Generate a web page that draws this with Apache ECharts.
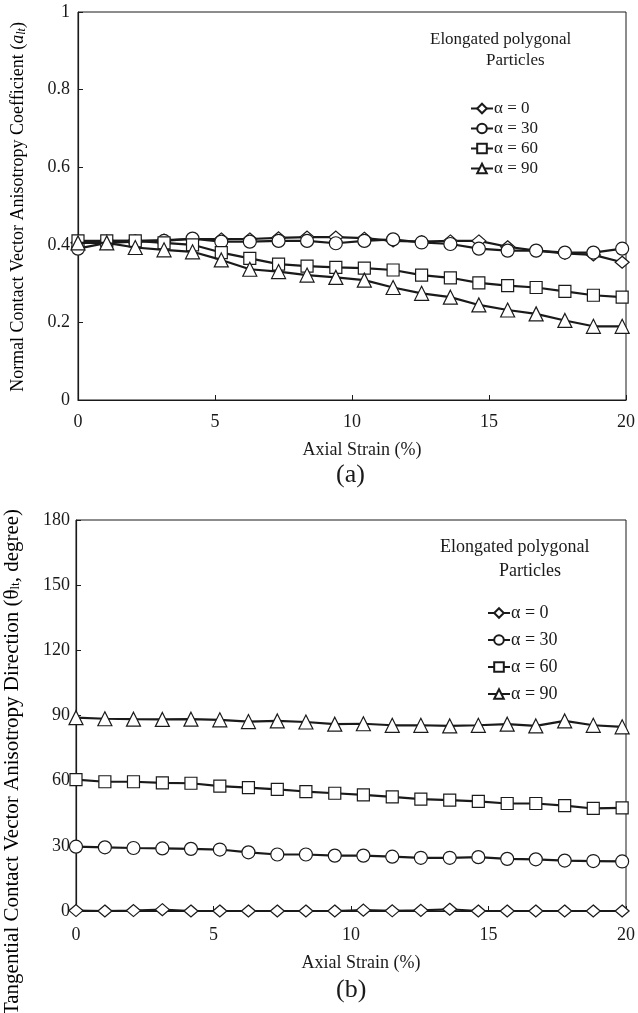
<!DOCTYPE html>
<html>
<head>
<meta charset="utf-8">
<script src="https://cdn.jsdelivr.net/npm/echarts@6/dist/echarts.min.js"></script>
<style>
  html, body { margin: 0; padding: 0; background: #fff; }
  #main { width: 638px; height: 1013px; }
</style>
</head>
<body>
<div id="main"></div>
<script>
// axial strain (%) for each sample point
var strain = [0, 1.05, 2.09, 3.14, 4.18, 5.23, 6.27, 7.32, 8.36, 9.41, 10.45, 11.5, 12.54, 13.59, 14.63, 15.68, 16.72, 17.77, 18.81, 19.86];

// (a) normal contact vector anisotropy coefficient
var a_0  = [0.405, 0.41, 0.41, 0.412, 0.415, 0.415, 0.415, 0.418, 0.42, 0.42, 0.417, 0.41, 0.408, 0.41, 0.41, 0.395, 0.385, 0.378, 0.374, 0.355];
var a_30 = [0.39, 0.405, 0.408, 0.41, 0.416, 0.408, 0.408, 0.41, 0.41, 0.404, 0.41, 0.414, 0.406, 0.402, 0.39, 0.385, 0.385, 0.38, 0.38, 0.39];
var a_60 = [0.41, 0.41, 0.41, 0.405, 0.40, 0.38, 0.365, 0.35, 0.345, 0.342, 0.34, 0.335, 0.322, 0.315, 0.302, 0.295, 0.29, 0.28, 0.27, 0.265];
var a_90 = [0.405, 0.405, 0.393, 0.387, 0.382, 0.361, 0.337, 0.331, 0.322, 0.316, 0.309, 0.29, 0.275, 0.265, 0.245, 0.232, 0.222, 0.205, 0.19, 0.19];

// (b) tangential contact vector anisotropy direction (degree)
var b_0  = [0.2, 0, 0.2, 0.6, 0, 0, 0, 0, 0, 0, 0.4, 0.1, 0.3, 0.8, 0, 0, 0, 0, 0, 0];
var b_30 = [29.6, 29.3, 29.0, 28.8, 28.6, 28.3, 27.0, 26.0, 26.0, 25.5, 25.5, 25.0, 24.5, 24.5, 24.8, 24.0, 23.8, 23.2, 23.0, 22.8];
var b_60 = [60.5, 59.5, 59.5, 59, 58.8, 57.5, 56.8, 56, 55, 54.2, 53.5, 52.5, 51.5, 51, 50.5, 49.5, 49.5, 48.5, 47.2, 47.5];
var b_90 = [89, 88.5, 88.3, 88.2, 88.3, 88, 87.2, 87.5, 87, 86, 86.2, 85.5, 85.5, 85.2, 85.5, 86, 85.2, 87.5, 85.5, 84.8];

var names = ['α = 0', 'α = 30', 'α = 60', 'α = 90'];
var symbols = ['diamond', 'circle', 'rect', 'triangle'];
var sizes = [[14, 12], 13, 12, 14];

var FONT = 'Liberation Serif';
var INK = '#1a1a1a';

function pairs(ys) {
  var out = [];
  for (var i = 0; i < strain.length; i++) out.push([strain[i], ys[i]]);
  return out;
}

function mkSeries(idx, ys, k) {
  return {
    name: names[k],
    type: 'line',
    xAxisIndex: idx,
    yAxisIndex: idx,
    data: pairs(ys),
    symbol: symbols[k],
    symbolSize: sizes[k],
    showAllSymbol: true,
    clip: false,
    lineStyle: { color: INK, width: 2.2 },
    itemStyle: { color: '#fff', borderColor: INK, borderWidth: 1.2 },
    z: 2 + k,
    animation: false
  };
}

var chartDom = document.getElementById('main');
var myChart = echarts.init(chartDom);

var xAxisBase = function (grid, margin) {
  return {
    type: 'value', gridIndex: grid, min: 0, max: 20, interval: 5,
    name: 'Axial Strain (%)', nameLocation: 'middle', nameGap: margin + 28,
    nameTextStyle: { fontFamily: FONT, fontSize: 18, color: INK, padding: [0, 0, 0, 20] },
    axisLine: { lineStyle: { color: INK, width: 1.2 } },
    axisTick: { inside: true, length: 5, lineStyle: { color: INK } },
    axisLabel: { fontFamily: FONT, fontSize: 18, color: INK, margin: margin },
    splitLine: { show: false }
  };
};

var yLabel = { fontFamily: FONT, fontSize: 18, color: INK };

var option = {
  backgroundColor: '#fff',
  animation: false,
  grid: [
    { left: 78, right: 12, top: 12, height: 388, show: true, borderColor: INK, borderWidth: 1 },
    { left: 76, right: 8, top: 520, height: 391, show: true, borderColor: INK, borderWidth: 1 }
  ],
  xAxis: [xAxisBase(0, 13), xAxisBase(1, 15)],
  yAxis: [
    {
      type: 'value', gridIndex: 0, min: 0, max: 1, interval: 0.2,
      axisLine: { show: true, lineStyle: { color: INK, width: 1.2 } },
      axisTick: { show: true, inside: true, length: 5, lineStyle: { color: INK } },
      axisLabel: Object.assign({ margin: 8 }, yLabel),
      splitLine: { show: false }
    },
    {
      type: 'value', gridIndex: 1, min: 0, max: 180, interval: 30,
      axisLine: { show: true, lineStyle: { color: INK, width: 1.2 } },
      axisTick: { show: true, inside: true, length: 5, lineStyle: { color: INK } },
      axisLabel: Object.assign({ margin: 6 }, yLabel),
      splitLine: { show: false }
    }
  ],
  legend: [
    {
      data: names, orient: 'vertical', left: 465, top: 95,
      itemWidth: 22, itemHeight: 12, itemGap: 3,
      textStyle: { fontFamily: FONT, fontSize: 17, color: INK, padding: [0, 0, 0, -4] },
      selectedMode: false
    },
    {
      data: names, orient: 'vertical', left: 482, top: 599,
      itemWidth: 22, itemHeight: 12, itemGap: 9,
      textStyle: { fontFamily: FONT, fontSize: 18, color: INK, padding: [0, 0, 0, -4] },
      selectedMode: false
    }
  ],
  graphic: [
    { type: 'text', left: 430, top: 31, style: { text: 'Elongated polygonal', font: '17px "Liberation Serif"', fill: INK } },
    { type: 'text', left: 486, top: 52, style: { text: 'Particles', font: '17px "Liberation Serif"', fill: INK } },
    { type: 'text', left: 440, top: 538, style: { text: 'Elongated polygonal', font: '18px "Liberation Serif"', fill: INK } },
    { type: 'text', left: 499, top: 562, style: { text: 'Particles', font: '18px "Liberation Serif"', fill: INK } },
    { type: 'text', left: 336, top: 462, style: { text: '(a)', font: '26px "Liberation Serif"', fill: INK } },
    { type: 'text', left: 336, top: 977, style: { text: '(b)', font: '26px "Liberation Serif"', fill: INK } },
    {
      type: 'text', x: 18, y: 207, rotation: Math.PI / 2,
      style: {
        text: '{n|Normal Contact Vector Anisotropy Coefficient (}{i|a}{s|lt}{n|)}',
        align: 'center', verticalAlign: 'middle',
        rich: {
          n: { fontFamily: FONT, fontSize: 18, color: INK },
          i: { fontFamily: FONT, fontSize: 18, fontStyle: 'italic', color: INK },
          s: { fontFamily: FONT, fontSize: 12, fontStyle: 'italic', color: INK, padding: [7, 0, 0, 0] }
        }
      }
    },
    {
      type: 'text', x: 12, y: 762, rotation: Math.PI / 2,
      style: {
        text: '{n|Tangential Contact Vector Anisotropy Direction (θ}{s|lt}{n|, degree)}',
        align: 'center', verticalAlign: 'middle',
        rich: {
          n: { fontFamily: FONT, fontSize: 21, color: INK },
          s: { fontFamily: FONT, fontSize: 13, color: INK, padding: [8, 0, 0, 0] }
        }
      }
    }
  ],
  series: [
    mkSeries(0, a_0, 0), mkSeries(0, a_30, 1), mkSeries(0, a_60, 2), mkSeries(0, a_90, 3),
    mkSeries(1, b_0, 0), mkSeries(1, b_30, 1), mkSeries(1, b_60, 2), mkSeries(1, b_90, 3)
  ]
};

myChart.setOption(option);
</script>
</body>
</html>
